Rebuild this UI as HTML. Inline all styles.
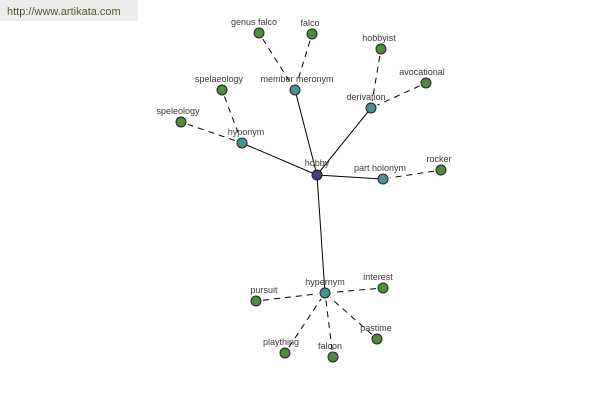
<!DOCTYPE html>
<html><head><meta charset="utf-8"><style>
body{margin:0;background:#fff;width:600px;height:400px;overflow:hidden}
text{font-family:"Liberation Sans",sans-serif;font-size:9px;fill:#3a3a3a;text-anchor:middle}
</style></head><body>
<svg width="600" height="400" xmlns="http://www.w3.org/2000/svg">
<rect x="0" y="0" width="138" height="21" fill="#ececec"/>
<text x="7" y="15" style="text-anchor:start;font-size:11px;fill:#4f5a2e">http://www.artikata.com</text>
<g stroke="#000" stroke-width="1">
<line x1="317" y1="175" x2="242" y2="143"/>
<line x1="317" y1="175" x2="295" y2="90"/>
<line x1="317" y1="175" x2="371" y2="108"/>
<line x1="317" y1="175" x2="383" y2="179"/>
<line x1="317" y1="175" x2="325" y2="293"/>
</g>
<g stroke="#000" stroke-width="1" stroke-dasharray="6,5">
<line x1="262.7" y1="38.9" x2="291.3" y2="84.1"/>
<line x1="310" y1="40.7" x2="297" y2="83.3"/>
<line x1="379.8" y1="55.9" x2="372.2" y2="101.1"/>
<line x1="419.6" y1="85.9" x2="377.4" y2="105.1"/>
<line x1="224.5" y1="96.6" x2="239.5" y2="136.4"/>
<line x1="187.6" y1="124.3" x2="235.4" y2="140.7"/>
<line x1="434.1" y1="171.1" x2="389.9" y2="177.9"/>
<line x1="263" y1="300.2" x2="318" y2="293.8"/>
<line x1="376" y1="288.6" x2="332" y2="292.4"/>
<line x1="288.9" y1="347.2" x2="321.1" y2="298.8"/>
<line x1="332.1" y1="350" x2="325.9" y2="300"/>
<line x1="371.8" y1="334.4" x2="330.2" y2="297.6"/>
</g>
<g stroke="#222" stroke-width="1" fill="#4a9191">
<circle cx="242" cy="143" r="5"/><circle cx="295" cy="90" r="5"/>
<circle cx="371" cy="108" r="5"/><circle cx="383" cy="179" r="5"/>
<circle cx="325" cy="293" r="5"/>
</g>
<circle cx="317" cy="175" r="5" fill="#3f3f8a" stroke="#222"/>
<g stroke="#222" stroke-width="1" fill="#4f8a3f">
<circle cx="259" cy="33" r="5"/><circle cx="312" cy="34" r="5"/>
<circle cx="381" cy="49" r="5"/><circle cx="426" cy="83" r="5"/>
<circle cx="222" cy="90" r="5"/><circle cx="181" cy="122" r="5"/>
<circle cx="441" cy="170" r="5"/><circle cx="256" cy="301" r="5"/>
<circle cx="383" cy="288" r="5"/><circle cx="285" cy="353" r="5"/>
<circle cx="333" cy="357" r="5"/><circle cx="377" cy="339" r="5"/>
</g>
<text x="254" y="25">genus falco</text>
<text x="310" y="26">falco</text>
<text x="379" y="41">hobbyist</text>
<text x="422" y="75">avocational</text>
<text x="219" y="82">spelaeology</text>
<text x="178" y="114">speleology</text>
<text x="297" y="82">member meronym</text>
<text x="366" y="100">derivation</text>
<text x="246" y="135">hyponym</text>
<text x="317" y="166">hobby</text>
<text x="380" y="171">part holonym</text>
<text x="439" y="162">rocker</text>
<text x="325" y="285">hypernym</text>
<text x="264" y="293">pursuit</text>
<text x="378" y="280">interest</text>
<text x="281" y="345">plaything</text>
<text x="330" y="349">falcon</text>
<text x="376" y="331">pastime</text>
</svg>
</body></html>
